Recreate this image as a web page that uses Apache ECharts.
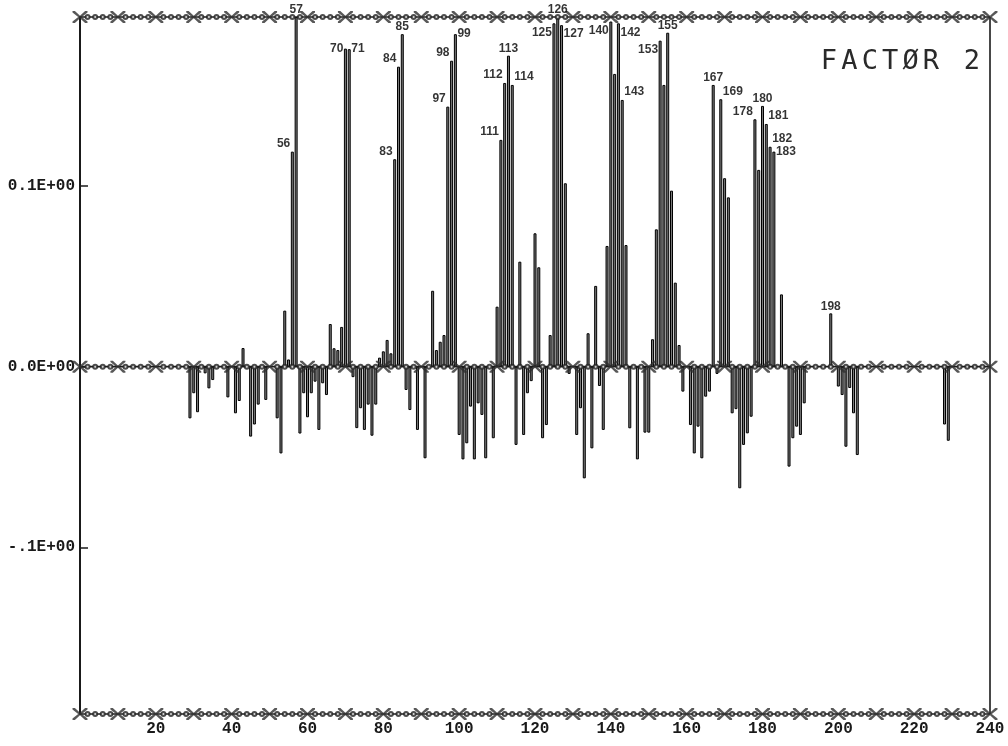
<!DOCTYPE html>
<html>
<head>
<meta charset="utf-8">
<script src="https://cdn.jsdelivr.net/npm/echarts@6/dist/echarts.min.js"></script>
<style>
  html, body { margin: 0; padding: 0; background: #fff; }
  #chart { width: 1008px; height: 746px; }
</style>
</head>
<body>
<div id="chart"></div>
<script>
// Factor 2 loadings by mass number
const mass = [
  29, 30, 31, 33, 34, 35, 39, 41, 42, 43,
  45, 46, 47, 49, 52, 53, 54, 55, 56, 57,
  58, 59, 60, 61, 62, 63, 64, 65, 66, 67,
  68, 69, 70, 71, 72, 73, 74, 75, 76, 77,
  78, 79, 80, 81, 82, 83, 84, 85, 86, 87,
  89, 91, 93, 94, 95, 96, 97, 98, 99, 100,
  101, 102, 103, 104, 105, 106, 107, 109, 110, 111,
  112, 113, 114, 115, 116, 117, 118, 119, 120, 121,
  122, 123, 124, 125, 126, 127, 128, 129, 131, 132,
  133, 134, 135, 136, 137, 138, 139, 140, 141, 142,
  143, 144, 145, 147, 149, 150, 151, 152, 153, 154,
  155, 156, 157, 158, 159, 161, 162, 163, 164, 165,
  166, 167, 168, 169, 170, 171, 172, 173, 174, 175,
  176, 177, 178, 179, 180, 181, 182, 183, 185, 187,
  188, 189, 190, 191, 198, 200, 201, 202, 203, 204,
  205, 228, 229
];
const loading = [
  -0.0286, -0.0147, -0.0252, -0.0037, -0.0120, -0.0074, -0.0170, -0.0258, -0.0190, 0.0103,
  -0.0387, -0.0320, -0.0210, -0.0184, -0.0286, -0.0480, 0.0310, 0.0040, 0.1190, 0.1935,
  -0.0370, -0.0147, -0.0280, -0.0147, -0.0083, -0.0350, -0.0092, -0.0157, 0.0236, 0.0102,
  0.0092, 0.0220, 0.1760, 0.1757, -0.0058, -0.0340, -0.0230, -0.0350, -0.0210, -0.0382,
  -0.0210, 0.0050, 0.0085, 0.0148, 0.0074, 0.1148, 0.1660, 0.1840, -0.0129, -0.0240,
  -0.0350, -0.0507, 0.0420, 0.0092, 0.0138, 0.0175, 0.1439, 0.1693, 0.1840, -0.0378,
  -0.0513, -0.0424, -0.0221, -0.0513, -0.0203, -0.0267, -0.0507, -0.0396, 0.0332, 0.1255,
  0.1570, 0.1721, 0.1559, -0.0433, 0.0581, -0.0378, -0.0147, -0.0080, 0.0738, 0.0550,
  -0.0396, -0.0323, 0.0175, 0.1900, 0.1935, 0.1890, 0.1015, -0.0040, -0.0378, -0.0230,
  -0.0618, 0.0185, -0.0452, 0.0447, -0.0107, -0.0350, 0.0668, 0.1910, 0.1620, 0.1900,
  0.1476, 0.0673, -0.0341, -0.0513, -0.0365, -0.0365, 0.0152, 0.0760, 0.1804, 0.1559,
  0.1848, 0.0974, 0.0465, 0.0120, -0.0138, -0.0323, -0.0480, -0.0332, -0.0507, -0.0166,
  -0.0138, 0.1559, -0.0040, 0.1480, 0.1043, 0.0937, -0.0258, -0.0235, -0.0673, -0.0433,
  -0.0369, -0.0277, 0.1369, 0.1089, 0.1443, 0.1343, 0.1217, 0.1190, 0.0400, -0.0553,
  -0.0396, -0.0332, -0.0378, -0.0203, 0.0295, -0.0110, -0.0157, -0.0443, -0.0118, -0.0258,
  -0.0489, -0.0320, -0.0410
];

// Peaks carrying a mass-number tag, and which side of the bar the tag sits on
const labelMass = [56, 57, 70, 71, 83, 84, 85, 97, 98, 99, 111, 112, 113, 114, 125,
                   126, 127, 140, 142, 143, 153, 155, 167, 169, 178, 180, 181, 182, 183, 198];
const labelSide = ['L', 'T', 'LM', 'RM', 'L', 'L', 'T', 'L', 'L', 'RM', 'L', 'L', 'T', 'R', 'LB',
                   'T', 'RB', 'LB', 'RB', 'R', 'LB', 'T', 'T', 'R', 'L', 'T', 'R', 'R', 'RM', 'T'];

// Axis ticks
const xTickValues = [20, 40, 60, 80, 100, 120, 140, 160, 180, 200, 220, 240];
const xTickLabels = ['20', '40', '60', '80', '100', '120', '140', '160', '180', '200', '220', '240'];
const yTickValues = [-0.1, 0, 0.1];
const yTickLabels = ['-.1E+00', '0.0E+00', '0.1E+00'];

const title = 'FACTØR 2';

const X_MIN = 0, X_MAX = 240;
const Y_MIN = -0.1922, Y_MAX = 0.1935;

const ink = '#1a1a1a';

const barData = mass.map((m, i) => [m, loading[i]]);

const tagData = labelMass.map((m, i) => {
  const v = loading[mass.indexOf(m)];
  const side = labelSide[i];
  let label;
  if (side === 'T') {
    label = { position: 'top', distance: 1 };
  } else {
    const dy = side.length === 1 ? -8 : (side[1] === 'M' ? 0 : 9);
    label = {
      position: side[0] === 'L' ? 'left' : 'right',
      distance: 2,
      offset: [0, dy]
    };
  }
  return { value: [m, v], label: label };
});

// Plotter-style rails: crosses every 10 units, small rings every 2 units
const railLevels = [Y_MAX, 0, Y_MIN];
const crossData = [], ringData = [];
railLevels.forEach(y => {
  for (let k = X_MIN; k <= X_MAX; k += 2) {
    if (k % 10 === 0) crossData.push([k, y]); else ringData.push([k, y]);
  }
});

const crossPath = 'path://M0,0L3.2,0L10,6L16.8,0L20,0L20,1.8L12.4,7.5L20,13.2L20,15L16.8,15L10,9L3.2,15L0,15L0,13.2L7.6,7.5L0,1.8Z';

const railSeries = railLevels.map(y => ({
  type: 'line',
  data: [[X_MIN, y], [X_MAX, y]],
  showSymbol: false,
  clip: false,
  silent: true,
  lineStyle: { color: ink, width: 1.6 },
  z: 5
}));

const chart = echarts.init(document.getElementById('chart'), null, { renderer: 'canvas' });

const titleChars = title.split('').map((ch, i) => ({
  type: 'text',
  x: 829 + i * 20.4,
  y: 62,
  style: {
    text: ch,
    fill: '#2a2a2a',
    font: '27px "DejaVu Sans Mono", monospace',
    align: 'center',
    verticalAlign: 'middle'
  },
  z: 20
}));

chart.setOption({
  animation: false,
  backgroundColor: '#fff',
  grid: { left: 80, right: 18, top: 17, bottom: 32, containLabel: false },
  xAxis: {
    type: 'value',
    min: X_MIN,
    max: X_MAX,
    interval: 20,
    axisLine: { show: false },
    axisTick: { show: false },
    splitLine: { show: false },
    axisLabel: {
      customValues: xTickValues,
      formatter: v => xTickLabels[xTickValues.indexOf(v)] || '',
      margin: 7,
      color: '#1a1a1a',
      fontFamily: '"Liberation Mono", "DejaVu Sans Mono", monospace',
      fontWeight: 'bold',
      fontSize: 16
    }
  },
  yAxis: {
    type: 'value',
    min: Y_MIN,
    max: Y_MAX,
    axisLine: { show: true, onZero: false, lineStyle: { color: ink, width: 2 } },
    axisTick: { show: true, inside: true, length: 8, customValues: yTickValues,
                lineStyle: { color: ink, width: 1.5 } },
    splitLine: { show: false },
    axisLabel: {
      customValues: yTickValues,
      formatter: v => {
        const i = yTickValues.findIndex(t => Math.abs(t - v) < 1e-9);
        return i >= 0 ? yTickLabels[i] : '';
      },
      margin: 5,
      color: '#1a1a1a',
      fontFamily: '"Liberation Mono", "DejaVu Sans Mono", monospace',
      fontWeight: 'bold',
      fontSize: 16
    }
  },
  graphic: titleChars,
  series: [
    {
      type: 'bar',
      data: barData,
      barWidth: 3,
      itemStyle: { color: '#7a7a7a', borderColor: '#000', borderWidth: 1 },
      z: 3
    },
    ...railSeries,
    {
      // right frame edge
      type: 'line',
      data: [[X_MAX, Y_MIN], [X_MAX, Y_MAX]],
      showSymbol: false,
      clip: false,
      silent: true,
      lineStyle: { color: ink, width: 1.6 },
      z: 5
    },
    {
      type: 'scatter',
      data: ringData,
      symbol: 'emptyCircle',
      symbolSize: 4,
      itemStyle: { color: '#222', borderWidth: 1 },
      silent: true,
      clip: false,
      z: 6
    },
    {
      type: 'scatter',
      data: crossData,
      symbol: crossPath,
      symbolSize: [15, 12],
      itemStyle: { color: '#2e2e2e' },
      silent: true,
      clip: false,
      z: 7
    },
    {
      type: 'scatter',
      data: tagData,
      symbolSize: 0.1,
      itemStyle: { color: 'rgba(0,0,0,0)' },
      silent: true,
      clip: false,
      label: {
        show: true,
        formatter: p => String(p.value[0]),
        color: '#000',
        fontFamily: '"Liberation Sans Narrow", "Liberation Sans", sans-serif',
        fontWeight: 'bold',
        fontSize: 12
      },
      z: 10
    }
  ]
});
</script>
</body>
</html>
